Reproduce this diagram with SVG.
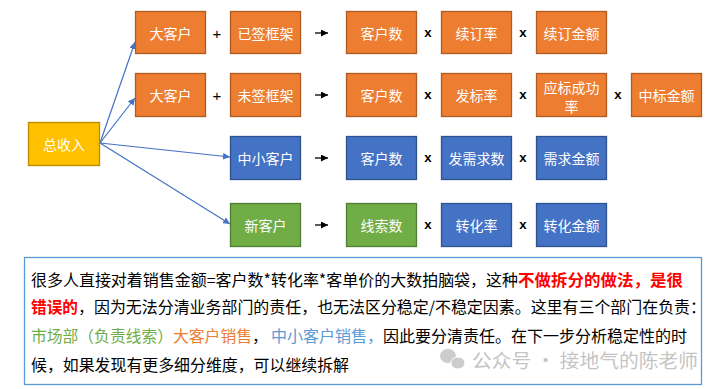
<svg xmlns="http://www.w3.org/2000/svg" width="723" height="389" viewBox="0 0 723 389">
<defs>
<style>
.box text{font-family:"Noto Sans CJK SC","Microsoft YaHei",sans-serif;font-size:14px;fill:#fff;text-anchor:middle;dominant-baseline:central}
.o rect{fill:#ed7d31;stroke:#ae5a21;stroke-width:1.3}
.b rect{fill:#4472c4;stroke:#2f528f;stroke-width:1.3}
.g rect{fill:#70ad47;stroke:#507e32;stroke-width:1.3}
.y rect{fill:#ffc000;stroke:#bc8c00;stroke-width:1.3}
.op{font-family:"Liberation Mono",monospace;font-size:13px;font-weight:bold;fill:#000;text-anchor:middle;dominant-baseline:central}
.plus{font-family:"Liberation Sans",sans-serif;font-size:15px;fill:#000;text-anchor:middle;dominant-baseline:central}
.conn{stroke:#4472c4;stroke-width:1.2;fill:none;marker-end:url(#ab)}
.sa{stroke:#000;stroke-width:1.3;fill:none;marker-end:url(#ak)}
.t{font-family:"Noto Sans CJK SC","SimSun",sans-serif;font-size:16px;fill:#000}
.red{fill:#ff0000;font-weight:bold}
.grn{fill:#70ad47}
.org{fill:#ed7d31}
.blu{fill:#5b9bd5}
</style>
<marker id="ab" viewBox="0 0 10 10" refX="10" refY="5" markerWidth="7" markerHeight="7" markerUnits="userSpaceOnUse" orient="auto"><path d="M0,0L10,5L0,10z" fill="#4472c4"/></marker>
<marker id="ak" viewBox="0 0 10 10" refX="10" refY="5" markerWidth="7" markerHeight="7" markerUnits="userSpaceOnUse" orient="auto"><path d="M0,0L10,5L0,10z" fill="#000"/></marker>
</defs>
<rect width="723" height="389" fill="#fff"/>

<g id="connectors">
<line class="conn" x1="100" y1="143" x2="135" y2="42"/>
<line class="conn" x1="100" y1="143" x2="135" y2="98"/>
<line class="conn" x1="100" y1="143" x2="230" y2="157"/>
<line class="conn" x1="100" y1="143" x2="230" y2="224"/>
<line class="sa" x1="315" y1="33" x2="328" y2="33"/>
<line class="sa" x1="315" y1="95" x2="328" y2="95"/>
<line class="sa" x1="315" y1="158" x2="328" y2="158"/>
<line class="sa" x1="315" y1="225" x2="328" y2="225"/>
</g>

<g id="n-total" class="box y"><rect x="28.5" y="122.5" width="71" height="43"/><text x="64" y="144">总收入</text></g>

<g id="n-r1-big" class="box o"><rect x="135.5" y="11.5" width="70" height="42"/><text x="170.5" y="32.5">大客户</text></g>
<g id="n-r1-signed" class="box o"><rect x="230.5" y="11.5" width="70" height="42"/><text x="265.5" y="32.5">已签框架</text></g>
<g id="n-r1-cnt" class="box o"><rect x="346.5" y="11.5" width="70" height="42"/><text x="381.5" y="32.5">客户数</text></g>
<g id="n-r1-renew" class="box o"><rect x="441.5" y="11.5" width="70" height="42"/><text x="476.5" y="32.5">续订率</text></g>
<g id="n-r1-amt" class="box o"><rect x="536.5" y="11.5" width="70" height="42"/><text x="571.5" y="32.5">续订金额</text></g>

<g id="n-r2-big" class="box o"><rect x="135.5" y="73.5" width="70" height="43"/><text x="170.5" y="95">大客户</text></g>
<g id="n-r2-unsigned" class="box o"><rect x="230.5" y="73.5" width="70" height="43"/><text x="265.5" y="95">未签框架</text></g>
<g id="n-r2-cnt" class="box o"><rect x="346.5" y="73.5" width="70" height="43"/><text x="381.5" y="95">客户数</text></g>
<g id="n-r2-bid" class="box o"><rect x="441.5" y="73.5" width="70" height="43"/><text x="476.5" y="95">发标率</text></g>
<g id="n-r2-win" class="box o"><rect x="536.5" y="73.5" width="70" height="43"/><text x="571.5" y="87">应标成功</text><text x="571.5" y="106">率</text></g>
<g id="n-r2-amt" class="box o"><rect x="631.5" y="73.5" width="70" height="43"/><text x="666.5" y="95">中标金额</text></g>

<g id="n-r3-sme" class="box b"><rect x="230.5" y="136.5" width="70" height="43"/><text x="265.5" y="158">中小客户</text></g>
<g id="n-r3-cnt" class="box b"><rect x="346.5" y="136.5" width="70" height="43"/><text x="381.5" y="158">客户数</text></g>
<g id="n-r3-req" class="box b"><rect x="441.5" y="136.5" width="70" height="43"/><text x="476.5" y="158">发需求数</text></g>
<g id="n-r3-amt" class="box b"><rect x="536.5" y="136.5" width="70" height="43"/><text x="571.5" y="158">需求金额</text></g>

<g id="n-r4-new" class="box g"><rect x="230.5" y="203.5" width="70" height="43"/><text x="265.5" y="225">新客户</text></g>
<g id="n-r4-leads" class="box g"><rect x="346.5" y="203.5" width="70" height="43"/><text x="381.5" y="225">线索数</text></g>
<g id="n-r4-conv" class="box b"><rect x="441.5" y="203.5" width="70" height="43"/><text x="476.5" y="225">转化率</text></g>
<g id="n-r4-amt" class="box b"><rect x="536.5" y="203.5" width="70" height="43"/><text x="571.5" y="225">转化金额</text></g>

<g id="operators">
<text class="plus" x="217" y="33">+</text>
<text class="plus" x="217" y="95">+</text>
<text class="op" x="428" y="33">x</text>
<text class="op" x="523" y="33">x</text>
<text class="op" x="428" y="95">x</text>
<text class="op" x="523" y="95">x</text>
<text class="op" x="618" y="95">x</text>
<text class="op" x="428" y="158">x</text>
<text class="op" x="523" y="158">x</text>
<text class="op" x="428" y="225">x</text>
<text class="op" x="523" y="225">x</text>
</g>

<g id="note">
<rect x="24.5" y="257.5" width="677" height="127" fill="#fff" stroke="#5b9bd5" stroke-width="1.3"/>
<text class="t" x="31" y="286" textLength="487" lengthAdjust="spacingAndGlyphs">很多人直接对着销售金额=客户数*转化率*客单价的大数拍脑袋，这种</text>
<text class="t red" x="518" y="286" textLength="165" lengthAdjust="spacingAndGlyphs">不做拆分的做法，是很</text>
<text class="t red" x="31" y="313" textLength="47" lengthAdjust="spacingAndGlyphs">错误的</text>
<text class="t" x="78" y="313" textLength="628" lengthAdjust="spacingAndGlyphs">，因为无法分清业务部门的责任，也无法区分稳定/不稳定因素。这里有三个部门在负责：</text>
<text class="t grn" x="31" y="342" textLength="142" lengthAdjust="spacingAndGlyphs">市场部（负责线索）</text>
<text class="t org" x="173" y="342" textLength="79" lengthAdjust="spacingAndGlyphs">大客户销售</text>
<text class="t" x="252" y="342">，</text>
<text class="t blu" x="271" y="342" textLength="112" lengthAdjust="spacingAndGlyphs">中小客户销售，</text>
<text class="t" x="383" y="342" textLength="304" lengthAdjust="spacingAndGlyphs">因此要分清责任。在下一步分析稳定性的时</text>
<text class="t" x="31" y="371" textLength="318" lengthAdjust="spacingAndGlyphs">候，如果发现有更多细分维度，可以继续拆解</text>
</g>

<g id="watermark" opacity="0.5">
<ellipse cx="448" cy="356" rx="8" ry="7" fill="#9a9a9a"/>
<ellipse cx="458" cy="363" rx="7" ry="6" fill="#9a9a9a" stroke="#fff" stroke-width="1"/>
<text x="472" y="368" font-family="Noto Sans CJK SC, sans-serif" font-size="19" fill="#8a8a8a" textLength="226" lengthAdjust="spacingAndGlyphs">公众号 · 接地气的陈老师</text>
</g>
</svg>
